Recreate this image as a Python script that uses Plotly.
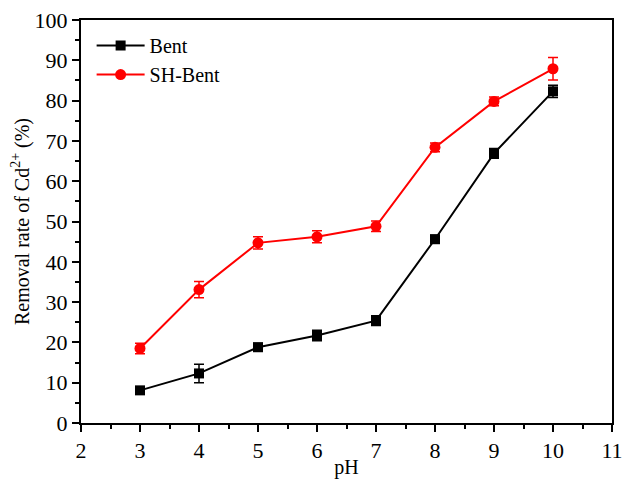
import plotly.graph_objects as go

ph = [3, 4, 5, 6, 7, 8, 9, 10]
bent = [8.1, 12.3, 18.8, 21.7, 25.4, 45.6, 66.9, 82.3]
bent_err = [0.8, 2.3, 1.0, 1.3, 1.2, 1.0, 1.2, 1.5]
sh_bent = [18.5, 33.1, 44.7, 46.2, 48.8, 68.4, 79.8, 87.9]
sh_err = [1.3, 2.0, 1.5, 1.5, 1.3, 1.1, 1.1, 2.8]

font = "Liberation Serif, Times New Roman, serif"

fig = go.Figure()
fig.add_trace(go.Scatter(
    x=ph, y=bent, name="Bent", mode="lines+markers",
    line=dict(color="black", width=2),
    marker=dict(symbol="square", size=10, color="black"),
    error_y=dict(type="data", array=bent_err, color="black", thickness=1.5, width=5),
))
fig.add_trace(go.Scatter(
    x=ph, y=sh_bent, name="SH-Bent", mode="lines+markers",
    line=dict(color="#ff0000", width=2),
    marker=dict(symbol="circle", size=11, color="#ff0000"),
    error_y=dict(type="data", array=sh_err, color="#ff0000", thickness=1.5, width=5),
))

axis_common = dict(
    showline=True, linecolor="black", linewidth=2, mirror=True,
    ticks="outside", ticklen=7, tickwidth=2, tickcolor="black",
    showgrid=False, zeroline=False, automargin=False,
    ticklabeloverflow="allow",
    tickfont=dict(family=font, size=22, color="black"),
)
fig.update_xaxes(range=[2, 11], dtick=1, tick0=2,
                 minor=dict(ticks="outside", ticklen=4, tickwidth=2, dtick=0.5, tickcolor="black"),
                 title=dict(text="pH", font=dict(family=font, size=20, color="black"), standoff=0),
                 **axis_common)
fig.update_yaxes(range=[0, 100], dtick=10, tick0=0,
                 minor=dict(ticks="outside", ticklen=4, tickwidth=2, dtick=5, tickcolor="black"),
                 title=dict(text="Removal rate of Cd<sup>2+</sup> (%)", font=dict(family=font, size=20, color="black"), standoff=0),
                 **axis_common)

fig.update_layout(
    width=624, height=479,
    margin=dict(l=81, r=12, t=20, b=56),
    paper_bgcolor="white", plot_bgcolor="white",
    font=dict(family=font, color="black"),
    legend=dict(x=0.02, y=0.985, xanchor="left", yanchor="top",
                font=dict(family=font, size=20, color="black"),
                bgcolor="rgba(0,0,0,0)", tracegroupgap=0, itemwidth=48),
    showlegend=True,
)

fig.write_html("out.html")
